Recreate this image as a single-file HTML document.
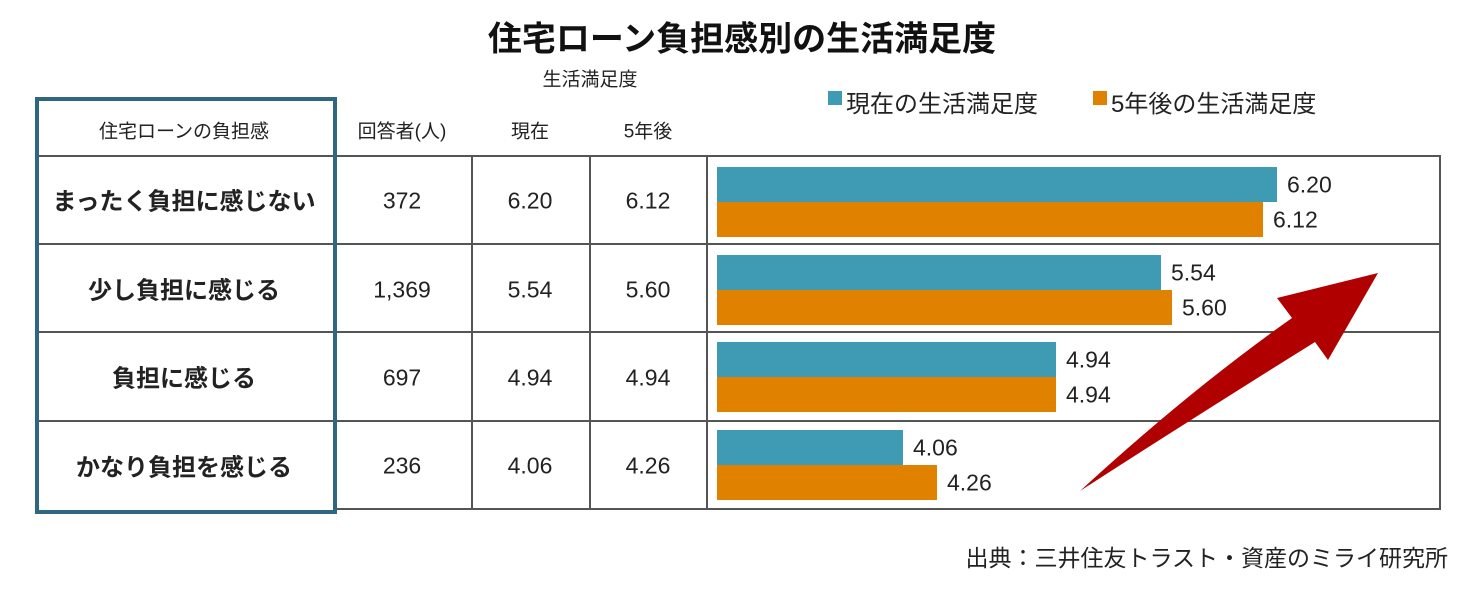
<!DOCTYPE html>
<html><head><meta charset="utf-8"><style>
body{margin:0;width:1470px;height:590px;background:#fff;position:relative;overflow:hidden;font-family:"Liberation Sans","Noto Sans CJK JP",sans-serif;color:#222}
.a{position:absolute;white-space:nowrap}
.c{transform:translate(-50%,-50%)}
.hl{position:absolute;height:2px;background:#555}
.vl{position:absolute;width:2px;background:#555}
.b{position:absolute;left:717px;height:35px}
.t{background:#3f9ab3}.o{background:#e08200}
.v{position:absolute;font-size:23px;transform:translateY(-50%)}
.r{font-weight:bold;font-size:24px}
.n{font-size:23px}
</style></head><body>
<div class="a c" style="left:742px;top:36px;font-size:34px;font-weight:bold;color:#111">住宅ローン負担感別の生活満足度</div>
<div class="a c" style="left:590px;top:78px;font-size:19px">生活満足度</div>
<div class="a" style="left:828px;top:91px;width:14px;height:14px;background:#3f9ab3"></div>
<div class="a" style="left:846px;top:84px;font-size:24px">現在の生活満足度</div>
<div class="a" style="left:1093px;top:91px;width:14px;height:14px;background:#e08200"></div>
<div class="a" style="left:1111px;top:84px;font-size:24px">5年後の生活満足度</div>

<div class="hl" style="left:35px;width:1406px;top:155px"></div>
<div class="hl" style="left:35px;width:1406px;top:243px"></div>
<div class="hl" style="left:35px;width:1406px;top:331px"></div>
<div class="hl" style="left:35px;width:1406px;top:420px"></div>
<div class="hl" style="left:333px;width:1108px;top:508px"></div>
<div class="vl" style="left:471px;top:155px;height:355px"></div>
<div class="vl" style="left:589px;top:155px;height:355px"></div>
<div class="vl" style="left:706px;top:155px;height:355px"></div>
<div class="vl" style="left:1439px;top:155px;height:355px"></div>
<div class="a" style="left:35px;top:97px;width:294px;height:409px;border:4px solid #2f6680"></div>

<div class="a c" style="left:184px;top:130px;font-size:19px">住宅ローンの負担感</div>
<div class="a c" style="left:402px;top:130px;font-size:19px">回答者(人)</div>
<div class="a c" style="left:530px;top:130px;font-size:19px">現在</div>
<div class="a c" style="left:648px;top:130px;font-size:19px">5年後</div>

<div class="a c r" style="left:184px;top:199px">まったく負担に感じない</div>
<div class="a c r" style="left:184px;top:288px">少し負担に感じる</div>
<div class="a c r" style="left:184px;top:376px">負担に感じる</div>
<div class="a c r" style="left:184px;top:465px">かなり負担を感じる</div>
<div class="a c n" style="left:402px;top:201px">372</div>
<div class="a c n" style="left:402px;top:290px">1,369</div>
<div class="a c n" style="left:402px;top:378px">697</div>
<div class="a c n" style="left:402px;top:466px">236</div>
<div class="a c n" style="left:530px;top:201px">6.20</div>
<div class="a c n" style="left:530px;top:290px">5.54</div>
<div class="a c n" style="left:530px;top:378px">4.94</div>
<div class="a c n" style="left:530px;top:466px">4.06</div>
<div class="a c n" style="left:648px;top:201px">6.12</div>
<div class="a c n" style="left:648px;top:290px">5.60</div>
<div class="a c n" style="left:648px;top:378px">4.94</div>
<div class="a c n" style="left:648px;top:466px">4.26</div>

<div class="b t" style="top:167px;width:560px"></div><div class="v" style="left:1287px;top:185px">6.20</div>
<div class="b o" style="top:202px;width:546px"></div><div class="v" style="left:1273px;top:220px">6.12</div>
<div class="b t" style="top:255px;width:444px"></div><div class="v" style="left:1171px;top:273px">5.54</div>
<div class="b o" style="top:290px;width:455px"></div><div class="v" style="left:1182px;top:308px">5.60</div>
<div class="b t" style="top:342px;width:339px"></div><div class="v" style="left:1066px;top:360px">4.94</div>
<div class="b o" style="top:377px;width:339px"></div><div class="v" style="left:1066px;top:395px">4.94</div>
<div class="b t" style="top:430px;width:186px"></div><div class="v" style="left:913px;top:448px">4.06</div>
<div class="b o" style="top:465px;width:220px"></div><div class="v" style="left:947px;top:483px">4.26</div>

<svg class="a" style="left:0;top:0" width="1470" height="590"><path d="M1080,491 Q1190,390 1292,318 L1277,298 L1378,273 L1328,360 L1315,342 Q1190,420 1080,491 Z" fill="#b00000"/></svg>

<div class="a" style="right:22px;top:539px;font-size:23px">出典：三井住友トラスト・資産のミライ研究所</div>
</body></html>
